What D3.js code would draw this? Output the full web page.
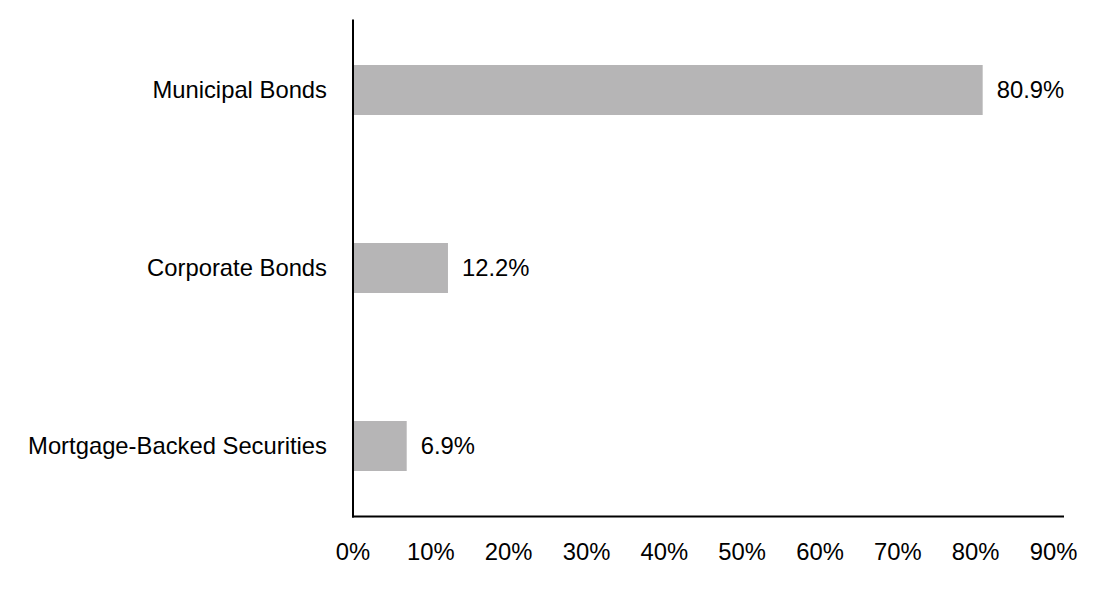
<!DOCTYPE html>
<meta charset="utf-8">
<script src="https://d3js.org/d3.v7.min.js"></script>
<style>
  body { margin: 0; background: #fff; }
  text { font-family: "Liberation Sans", Arial, sans-serif; fill: #000; }
</style>
<div id="chart"></div>
<script>
// data
var categories = ["Municipal Bonds", "Corporate Bonds", "Mortgage-Backed Securities"];
var values = [80.9, 12.2, 6.9];
var tickValues = [0, 10, 20, 30, 40, 50, 60, 70, 80, 90];

var width = 1108, height = 592;
var x0 = 353, axisTop = 19.5, axisBottom = 516.5, axisRight = 1064;
var fontSize = 23.8;

var svg = d3.select("#chart")
  .append("svg")
    .attr("width", width)
    .attr("height", height);

// scales
var x = d3.scaleLinear()
    .domain([0, 90])
    .range([x0, 1053.5]);

var y = d3.scalePoint()
    .domain(categories)
    .range([1, 535])
    .padding(0.5);

var barH = 50;

// bars
svg.append("g")
  .selectAll("rect")
  .data(categories)
  .enter()
  .append("rect")
    .attr("x", x(0))
    .attr("y", function(d) { return y(d) - barH / 2; })
    .attr("width", function(d, i) { return x(values[i]) - x(0); })
    .attr("height", barH)
    .attr("fill", "#b6b5b6");

// value labels
svg.append("g")
  .selectAll("text")
  .data(categories)
  .enter()
  .append("text")
    .attr("x", function(d, i) { return x(values[i]) + 14; })
    .attr("y", function(d) { return y(d); })
    .attr("dy", "0.35em")
    .style("font-size", fontSize + "px")
    .text(function(d, i) { return values[i].toFixed(1) + "%"; });

// category labels
svg.append("g")
  .selectAll("text")
  .data(categories)
  .enter()
  .append("text")
    .attr("x", x0 - 26)
    .attr("y", function(d) { return y(d); })
    .attr("dy", "0.35em")
    .attr("text-anchor", "end")
    .style("font-size", fontSize + "px")
    .text(function(d) { return d; });

// axes lines
svg.append("line")
    .attr("x1", x0).attr("x2", x0)
    .attr("y1", axisTop).attr("y2", axisBottom + 1)
    .attr("stroke", "#000")
    .attr("stroke-width", 2);

svg.append("line")
    .attr("x1", x0 - 1).attr("x2", axisRight)
    .attr("y1", axisBottom).attr("y2", axisBottom)
    .attr("stroke", "#000")
    .attr("stroke-width", 2);

// x tick labels
svg.append("g")
  .selectAll("text")
  .data(tickValues)
  .enter()
  .append("text")
    .attr("x", function(d) { return x(d); })
    .attr("y", 552)
    .attr("dy", "0.35em")
    .attr("text-anchor", "middle")
    .style("font-size", fontSize + "px")
    .text(function(d) { return d + "%"; });
</script>
